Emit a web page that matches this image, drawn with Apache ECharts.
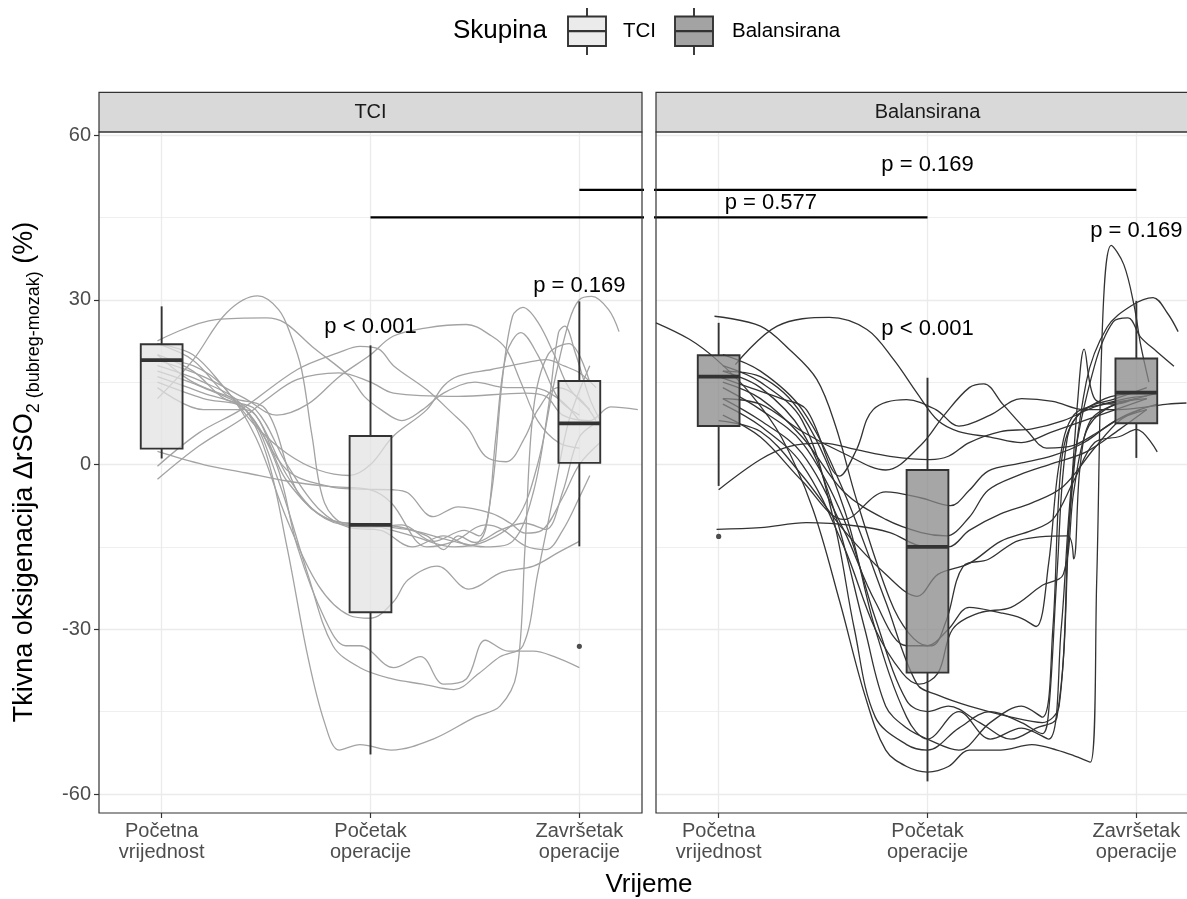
<!DOCTYPE html>
<html><head><meta charset="utf-8">
<script src="https://cdn.jsdelivr.net/npm/echarts@6/dist/echarts.min.js"></script>
<style>html,body{margin:0;padding:0;background:#fff;}#c{width:1187px;height:899px;}</style>
</head><body><div id="c"></div>
<script>
// ---------------- data ----------------
const groups = ['TCI', 'Balansirana'];
const timeLabels = ['Početna\nvrijednost', 'Početak\noperacije', 'Završetak\noperacije'];
const yTicks = [-60, -30, 0, 30, 60];
const yMinor = [-45, -15, 15, 45];
// boxplot stats: [lower whisker, Q1, median, Q3, upper whisker] per time point
const boxTCI = [[1.1, 2.9, 19.0, 21.9, 28.8], [-52.8, -26.9, -11.0, 5.2, 21.7], [-14.9, 0.3, 7.5, 15.2, 29.7]];
const boxBal = [[-3.9, 7.0, 16.0, 19.9, 25.8], [-57.7, -37.9, -15.0, -1.0, 15.8], [1.2, 7.5, 13.1, 19.3, 29.8]];
const outTCI = [[3, -33.1]];
const outBal = [[1, -13.1]];
// individual trajectories [time, value]
const tciLines = [
  [[0.98,18],[1.2,15],[1.38,11],[1.5,2],[1.6,-15],[1.7,-35],[1.78,-47],[1.85,-52],[1.95,-51],[2.1,-52],[2.3,-50],[2.5,-46],[2.62,-44],[2.7,-38],[2.74,-15],[2.78,10],[2.85,20],[2.95,22],[3.05,15]],
  [[0.98,17],[1.2,14],[1.4,10],[1.55,0],[1.65,-15],[1.78,-28],[1.88,-33],[1.95,-33],[2.11,-37],[2.24,-35],[2.35,-40],[2.46,-39],[2.55,-32],[2.66,-34],[2.78,-34],[2.88,-35],[3.0,-37]],
  [[0.98,15],[1.2,12],[1.4,10],[1.55,-2],[1.7,-20],[1.82,-33],[1.95,-37],[2.1,-39],[2.25,-40],[2.4,-41],[2.52,-38],[2.62,-35],[2.73,-33],[2.8,-20],[2.88,-5],[2.95,8],[3.05,18]],
  [[0.98,19],[1.15,18],[1.3,14],[1.45,5],[1.6,-10],[1.75,-22],[1.9,-27.5],[2.0,-28],[2.11,-25],[2.18,-21],[2.32,-18.5],[2.47,-22.7],[2.63,-19.6],[2.78,-18.5],[2.9,-16],[3.0,-14]],
  [[0.98,22],[1.15,19],[1.3,13],[1.45,9],[1.6,-2],[1.75,-9],[1.9,-11],[2.0,-11],[2.11,-11.2],[2.27,-13],[2.35,-15.5],[2.42,-13],[2.5,-14.2],[2.63,-11.8],[2.74,-10.7],[2.84,-11.8],[2.92,-5],[3.0,5],[3.1,8]],
  [[0.98,20],[1.15,17],[1.3,12],[1.45,10],[1.6,0],[1.75,-8],[1.9,-11.5],[2.05,-12],[2.2,-15],[2.35,-13],[2.48,-14.8],[2.55,-12],[2.6,5],[2.65,20],[2.72,24],[2.8,20],[2.9,12],[3.0,9]],
  [[0.98,16],[1.2,13],[1.4,10],[1.6,-1],[1.8,-4],[1.95,-4.5],[2.11,-4.6],[2.18,-5.2],[2.3,-9.5],[2.42,-7.7],[2.58,-8.9],[2.67,-10.7],[2.74,-12.5],[2.82,-12],[2.92,-6],[3.0,0],[3.1,4]],
  [[0.98,2.4],[1.2,0],[1.4,-1.5],[1.6,-3],[1.8,-4],[2.0,-4.6],[2.1,-7],[2.27,-15],[2.4,-14],[2.55,-11],[2.63,-11.8],[2.74,-14.8],[2.84,-15.5],[2.92,-12],[3.0,-6],[3.05,-2]],
  [[0.98,-2.7],[1.18,3.4],[1.38,8.2],[1.5,11.8],[1.65,15.5],[1.85,16.7],[2.0,15],[2.11,13],[2.42,12.4],[2.74,13],[2.84,12.4],[2.92,9],[3.05,8],[3.15,10.5],[3.28,10]],
  [[0.98,-0.3],[1.18,5.8],[1.38,10],[1.65,17.3],[1.85,20.4],[1.95,21.5],[2.04,21],[2.11,18],[2.27,13.6],[2.39,9.4],[2.47,6.4],[2.55,1.5],[2.65,0.5],[2.74,5],[2.8,9.9],[2.9,14],[3.0,12],[3.08,8]],
  [[0.98,22.5],[1.26,26.4],[1.5,26.7],[1.59,25.8],[1.72,21.5],[1.9,16],[1.97,12.4],[2.05,10],[2.15,8],[2.25,10],[2.35,13],[2.5,15],[2.65,14],[2.78,14],[2.9,12],[3.0,8]],
  [[0.98,12],[1.15,19],[1.31,27.6],[1.46,30.7],[1.56,28.2],[1.62,23.4],[1.67,17.3],[1.72,5.2],[1.78,-7],[1.88,-11],[2.0,-11.5],[2.15,-11],[2.3,-14],[2.45,-12],[2.52,-13],[2.58,-5],[2.63,15],[2.68,27],[2.73,28.6],[2.8,26],[2.88,20],[2.95,14],[3.05,10]],
  [[0.98,14],[1.2,10],[1.4,10],[1.6,-3],[1.8,-10],[2.0,-11],[2.2,-12],[2.4,-14],[2.55,-15],[2.68,-14],[2.78,-5],[2.85,10],[2.9,24],[2.93,25.2],[2.98,20.4],[3.05,12],[3.1,8]],
  [[0.98,20],[1.15,15],[1.35,12],[1.5,10],[1.65,-5],[1.8,-10],[2.0,-11],[2.2,-13],[2.4,-15],[2.55,-14],[2.7,-10],[2.8,0],[2.88,15],[2.95,26],[3.0,30],[3.06,30.6],[3.14,28.2],[3.19,24.2]],
  [[0.98,22],[1.15,20],[1.3,14],[1.45,7],[1.6,2],[1.75,-1],[1.9,-2],[2.0,0],[2.11,5.2],[2.27,10],[2.35,14.3],[2.42,16.1],[2.58,17.3],[2.74,18.5],[2.84,19.1],[2.93,17.9],[3.0,16.7],[3.08,14]],
  [[0.98,19],[1.2,16],[1.4,12],[1.55,9],[1.7,11],[1.85,16],[2.0,20],[2.11,23.4],[2.27,24.9],[2.46,25.5],[2.58,23.4],[2.65,21],[2.72,15],[2.8,8],[2.9,4],[3.0,3]]
];
const balLines = [
  [[0.99,-11.8],[1.2,-11.5],[1.42,-10.6],[1.66,-11.2],[1.82,-12.4],[1.98,-14.9],[2.1,-15],[2.2,-12],[2.35,-9],[2.5,-7],[2.65,-4],[2.8,3],[2.92,8],[3.02,10]],
  [[1.0,-4.6],[1.2,0.9],[1.34,3.3],[1.5,3.9],[1.66,2.7],[1.82,1.5],[2.01,0.9],[2.1,1.5],[2.2,4],[2.35,6],[2.5,6.5],[2.65,8],[2.8,10.5],[2.95,12],[3.05,12.5]],
  [[0.7,25.8],[0.86,22.8],[0.99,19.1],[1.15,13],[1.3,5],[1.45,-8],[1.58,-25],[1.7,-42],[1.8,-52],[1.9,-55],[2.0,-56],[2.1,-55],[2.2,-52],[2.35,-52],[2.5,-51],[2.62,-52],[2.7,-53],[2.78,-54.2],[2.81,-21.4],[2.84,27.4],[2.88,39.9],[2.94,36.4],[2.99,28.8],[3.02,21.9],[3.06,15]],
  [[0.98,27],[1.2,25.2],[1.34,20.9],[1.47,15.5],[1.56,7],[1.66,-6.4],[1.82,-24.6],[1.91,-30.7],[2.0,-33],[2.1,-30],[2.2,-26],[2.35,-27],[2.45,-28],[2.52,-29.5],[2.58,-18],[2.63,0],[2.7,9],[2.85,11],[3.05,12]],
  [[1.08,18.2],[1.28,25.2],[1.53,26.8],[1.71,24.6],[1.84,19],[1.95,13],[2.05,8],[2.15,6],[2.3,5],[2.45,4],[2.6,6],[2.75,8],[2.9,10],[3.05,12]],
  [[1.0,16],[1.15,14],[1.3,12],[1.42,10],[1.58,-2.1],[1.66,2.7],[1.74,10],[1.9,11.8],[2.04,10],[2.15,7],[2.3,9],[2.45,12],[2.6,11.5],[2.75,10],[2.92,10],[3.05,10.5],[3.15,11],[3.24,11.2]],
  [[1.02,18],[1.2,15],[1.4,8],[1.55,-10],[1.65,-30],[1.75,-46],[1.9,-51],[2.0,-52],[2.15,-48],[2.3,-45],[2.45,-47],[2.55,-49],[2.58,-45],[2.62,-20],[2.67,5],[2.75,10],[2.9,12],[3.05,14]],
  [[1.02,17],[1.2,14],[1.4,6],[1.55,-8],[1.7,-30],[1.8,-44],[1.9,-48],[2.0,-50],[2.15,-52],[2.3,-47],[2.45,-44],[2.55,-46],[2.6,-30],[2.64,0],[2.7,8],[2.85,12],[3.0,13]],
  [[1.02,14],[1.2,10],[1.4,4],[1.6,-10],[1.75,-28],[1.9,-43],[2.0,-45],[2.1,-44],[2.25,-47],[2.4,-50],[2.52,-48],[2.62,-46],[2.68,-10],[2.72,12],[2.75,21],[2.8,12],[2.9,11],[3.0,12],[3.1,13]],
  [[1.02,12],[1.2,8],[1.4,2],[1.6,-12],[1.75,-25],[1.9,-33],[2.02,-33],[2.09,-28.4],[2.17,-18.6],[2.29,-17.3],[2.44,-13.8],[2.67,-13],[2.7,-17.2],[2.73,-0.6],[2.78,8],[2.9,11],[3.0,12]],
  [[1.02,11],[1.2,7],[1.4,0],[1.6,-15],[1.75,-30],[1.88,-38],[1.96,-40],[2.05,-38],[2.12,-30],[2.25,-27],[2.4,-26],[2.55,-22],[2.65,-20],[2.7,-5],[2.76,6],[2.85,10],[3.0,12]],
  [[1.02,9],[1.2,5],[1.4,-3],[1.6,-10],[1.8,-5],[1.97,-6.1],[2.11,-7.5],[2.2,-4.7],[2.29,-1.2],[2.44,0.2],[2.6,1.6],[2.75,4],[2.9,8],[3.05,10]],
  [[1.02,15],[1.2,12],[1.4,5],[1.6,-5],[1.8,-10],[1.97,-12.4],[2.09,-13],[2.2,-9.6],[2.29,-4.7],[2.44,-1.9],[2.6,0.2],[2.76,2.3],[2.92,6.4],[3.05,10]],
  [[1.02,12],[1.2,11],[1.4,6],[1.6,2],[1.8,-1],[1.97,3.6],[2.08,9],[2.2,14],[2.27,14.7],[2.36,11],[2.48,6],[2.57,3],[2.7,3.5],[2.82,6],[2.95,9],[3.1,11]],
  [[1.02,20],[1.2,17],[1.4,10],[1.6,-5],[1.8,-25],[1.95,-40],[2.05,-42],[2.2,-44],[2.4,-46],[2.55,-47],[2.63,-44],[2.68,-10],[2.76,15],[2.86,25],[2.98,29],[3.08,30.4],[3.15,27.5],[3.2,24.2]],
  [[1.02,17],[1.2,16],[1.4,9],[1.6,-8],[1.75,-30],[1.9,-46],[2.0,-50],[2.15,-45],[2.3,-50],[2.45,-48],[2.58,-50],[2.64,-30],[2.7,0],[2.8,18],[2.89,26],[2.96,26.7],[3.02,23.2],[3.1,20.5],[3.18,17.9]],
  [[1.0,8],[1.2,6],[1.4,-2],[1.6,-12],[1.8,-20],[1.95,-24],[2.05,-20],[2.2,-18],[2.35,-14],[2.5,-12],[2.6,-10],[2.7,-3],[2.8,4],[2.92,5.1],[3.0,6.4],[3.1,2.3]]
];
const pLabelsTCI = [[2, 25, 'p < 0.001'], [3, 32.6, 'p = 0.169']];
const pLabelsBal = [[1.25, 47.7, 'p = 0.577'], [2, 54.6, 'p = 0.169'], [2, 24.6, 'p < 0.001'], [3, 42.6, 'p = 0.169']];
const bracketsTCI = [[[2, 45], [4, 45]], [[3, 50], [4, 50]]];
const bracketsBal = [[[0, 45], [2, 45]], [[0, 50], [3, 50]]];

// ---------------- layout/styling ----------------
const FONT = '"Liberation Sans", Arial, sans-serif';
const PXU = 543 / 2.6;               // pixels per x unit
const X_MIN = 0.7;
const panelW = 543;
// right panel is cut by the canvas edge: visible width 531
const G = [{left: 99, top: 132, width: 543, height: 681}, {left: 656, top: 132, width: 531, height: 681}];
const xMax = [3.3, X_MIN + 531 / PXU];
const lineColor = ['#a3a3a3', '#333333'];
const boxFill = ['rgba(226,226,226,0.72)', 'rgba(136,136,136,0.75)'];

const chart = echarts.init(document.getElementById('c'));
const series = [];

[0, 1].forEach(i => {
  const gridLines = [];
  yTicks.forEach(v => gridLines.push({yAxis: v, lineStyle: {color: '#ebebeb', width: 1.3, type: 'solid'}}));
  yMinor.forEach(v => gridLines.push({yAxis: v, lineStyle: {color: '#ebebeb', width: 0.8, type: 'solid'}}));
  [1, 2, 3].forEach(v => gridLines.push({xAxis: v, lineStyle: {color: '#ebebeb', width: 1.3, type: 'solid'}}));
  series.push({type: 'line', xAxisIndex: i, yAxisIndex: i, data: [], silent: true, z: 0,
    markLine: {z: 0, silent: true, symbol: ['none', 'none'], label: {show: false}, emphasis: {disabled: true}, data: gridLines}});
});

function addLines(i, lines) {
  lines.forEach(l => series.push({type: 'line', xAxisIndex: i, yAxisIndex: i, data: l, smooth: 0.35,
    showSymbol: false, silent: true, z: 2, clip: true,
    lineStyle: {color: lineColor[i], width: 1.3}, emphasis: {disabled: true}}));
}
addLines(0, tciLines);
addLines(1, balLines);

function boxSeries(i, stats) {
  return {type: 'custom', xAxisIndex: i, yAxisIndex: i, z: 3, silent: true,
    data: stats.map((s, k) => [k + 1, s[0], s[1], s[2], s[3], s[4]]),
    renderItem: (p, api) => {
      const x = api.value(0), mn = api.value(1), q1 = api.value(2), md = api.value(3), q3 = api.value(4), mx = api.value(5);
      const hw = 0.1;
      const tl = api.coord([x - hw, q3]), br = api.coord([x + hw, q1]);
      const top = api.coord([x, mx]), bot = api.coord([x, mn]);
      const mid = api.coord([x, md]);
      const ww = 1.9;
      return {type: 'group', children: [
        {type: 'rect', shape: {x: top[0] - ww / 2, y: top[1], width: ww, height: tl[1] - top[1]}, style: {fill: '#333'}},
        {type: 'rect', shape: {x: bot[0] - ww / 2, y: br[1], width: ww, height: bot[1] - br[1]}, style: {fill: '#333'}},
        {type: 'rect', shape: {x: tl[0], y: tl[1], width: br[0] - tl[0], height: br[1] - tl[1]},
          style: {fill: boxFill[i], stroke: '#333', lineWidth: 1.9}},
        {type: 'rect', shape: {x: tl[0], y: mid[1] - 1.9, width: br[0] - tl[0], height: 3.8}, style: {fill: '#333'}}
      ]};
    }};
}
series.push(boxSeries(0, boxTCI));
series.push(boxSeries(1, boxBal));

function outlierSeries(i, pts) {
  return {type: 'custom', xAxisIndex: i, yAxisIndex: i, z: 4, silent: true, data: pts,
    renderItem: (p, api) => {
      const c = api.coord([api.value(0), api.value(1)]);
      return {type: 'circle', shape: {cx: c[0], cy: c[1], r: 2.6}, style: {fill: '#4d4d4d'}};
    }};
}
series.push(outlierSeries(0, outTCI));
series.push(outlierSeries(1, outBal));

function addBrackets(i, br) {
  br.forEach(b => series.push({type: 'line', xAxisIndex: i, yAxisIndex: i, data: b, showSymbol: false,
    silent: true, z: 5, clip: true, lineStyle: {color: '#000', width: 2.2}}));
}
addBrackets(0, bracketsTCI);
addBrackets(1, bracketsBal);

function textSeries(i, arr) {
  return {type: 'custom', xAxisIndex: i, yAxisIndex: i, z: 6, silent: true, clip: false,
    data: arr.map(d => [d[0], d[1]]),
    renderItem: (p, api) => {
      const c = api.coord([api.value(0), api.value(1)]);
      return {type: 'text', x: c[0], y: c[1], style: {text: arr[p.dataIndex][2], fill: '#000',
        font: '22px ' + FONT, align: 'center', verticalAlign: 'middle', textAlign: 'center', textVerticalAlign: 'middle'}};
    }};
}
series.push(textSeries(0, pLabelsTCI));
series.push(textSeries(1, pLabelsBal));

const graphic = [];
// strips and panel borders (full panel width, right one runs off the canvas)
G.forEach((g, i) => {
  graphic.push({type: 'rect', z: 100, shape: {x: g.left, y: 92.3, width: panelW, height: g.top - 92.3},
    style: {fill: '#d9d9d9', stroke: '#333', lineWidth: 1.2}});
  graphic.push({type: 'text', z: 101, x: g.left + panelW / 2, y: 112.5,
    style: {text: groups[i], font: '20px ' + FONT, fill: '#1a1a1a', align: 'center', verticalAlign: 'middle', textAlign: 'center', textVerticalAlign: 'middle'}});
  graphic.push({type: 'rect', z: 100, shape: {x: g.left, y: g.top, width: panelW, height: g.height},
    style: {fill: null, stroke: '#333', lineWidth: 1.2}});
});
// legend
graphic.push({type: 'text', z: 100, x: 453, y: 31, style: {text: 'Skupina', font: '26px ' + FONT, fill: '#000', align: 'left', verticalAlign: 'middle', textAlign: 'left', textVerticalAlign: 'middle'}});
const keyX = [568, 675], labX = [623, 732], keyFill = ['#ebebeb', '#a3a3a3'];
[0, 1].forEach(i => {
  const cx = keyX[i] + 19;
  graphic.push({type: 'rect', z: 100, shape: {x: cx - 0.95, y: 8, width: 1.9, height: 8.5}, style: {fill: '#333'}});
  graphic.push({type: 'rect', z: 100, shape: {x: cx - 0.95, y: 46, width: 1.9, height: 9}, style: {fill: '#333'}});
  graphic.push({type: 'rect', z: 100, shape: {x: keyX[i], y: 16.5, width: 38, height: 29.5}, style: {fill: keyFill[i], stroke: '#333', lineWidth: 1.9}});
  graphic.push({type: 'rect', z: 101, shape: {x: keyX[i], y: 30.1, width: 38, height: 2.2}, style: {fill: '#333'}});
  graphic.push({type: 'text', z: 100, x: labX[i], y: 31, style: {text: groups[i], font: '20.5px ' + FONT, fill: '#000', align: 'left', verticalAlign: 'middle', textAlign: 'left', textVerticalAlign: 'middle'}});
});
// axis titles
graphic.push({type: 'text', z: 100, x: 649, y: 885, style: {text: 'Vrijeme', font: '26px ' + FONT, fill: '#000', align: 'center', verticalAlign: 'middle', textAlign: 'center', textVerticalAlign: 'middle'}});
graphic.push({type: 'text', z: 100, x: 27, y: 472, rotation: Math.PI / 2,
  style: {text: '{m|Tkivna oksigenacija ΔrSO}{s|2 (bubreg-mozak)}{m| (%)}', align: 'center', verticalAlign: 'middle', textAlign: 'center', textVerticalAlign: 'middle',
    rich: {m: {fontSize: 27, fontFamily: FONT, fill: '#000', color: '#000', padding: [0, 0, 5, 0], verticalAlign: 'bottom'},
           s: {fontSize: 18, fontFamily: FONT, fill: '#000', color: '#000', verticalAlign: 'bottom'}}}});

chart.setOption({
  animation: false,
  backgroundColor: '#fff',
  textStyle: {fontFamily: FONT},
  grid: G.map(g => Object.assign({containLabel: false}, g)),
  xAxis: [0, 1].map(i => ({type: 'value', gridIndex: i, min: X_MIN, max: xMax[i],
    axisLine: {show: false, onZero: false}, splitLine: {show: false},
    axisTick: {show: true, customValues: [1, 2, 3], length: 5, lineStyle: {color: '#333', width: 1.2}},
    axisLabel: {customValues: [1, 2, 3], formatter: v => timeLabels[Math.round(v) - 1], color: '#4d4d4d',
      fontSize: 20, lineHeight: 21, margin: 8, fontFamily: FONT}})),
  yAxis: [0, 1].map(i => ({type: 'value', gridIndex: i, min: -63.46, max: 60.55,
    axisLine: {show: false, onZero: false}, splitLine: {show: false},
    axisTick: {show: i === 0, customValues: yTicks, length: 5, lineStyle: {color: '#333', width: 1.2}},
    axisLabel: {show: i === 0, customValues: yTicks, color: '#4d4d4d', fontSize: 20, margin: 8, fontFamily: FONT}})),
  series: series,
  graphic: graphic
});
</script></body></html>
